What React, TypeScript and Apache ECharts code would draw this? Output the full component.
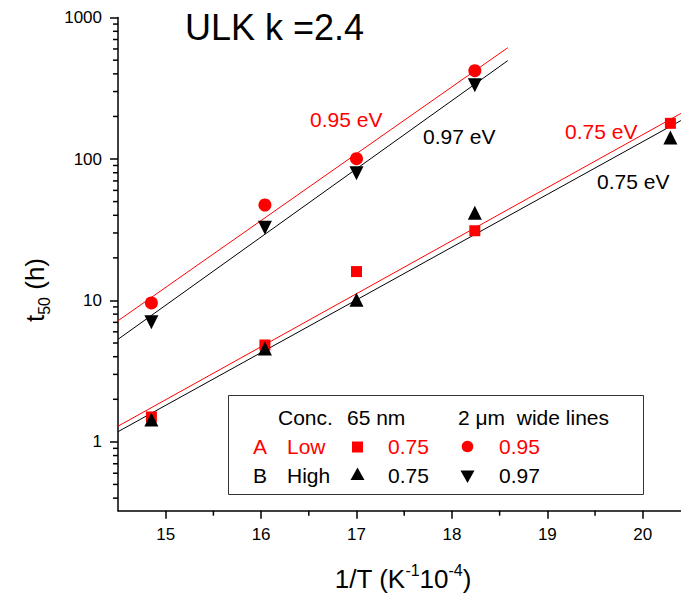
import React, { useEffect, useRef } from "react";
import * as echarts from "echarts";

// ---- data ----
const X_MIN = 14.5;
const X_MAX = 20.4;
const Y_MIN = 0.326;
const Y_MAX = 1000;

const x65nm = [14.85, 16.04, 17.0, 18.24, 20.29];
const lowA65nm = [1.5, 4.84, 16.0, 31.1, 178.8]; // red squares
const highB65nm = [1.44, 4.58, 10.1, 41.7, 142]; // black up-triangles

const x2um = [14.85, 16.04, 17.0, 18.24];
const lowA2um = [9.6, 47.3, 100.5, 421]; // red circles
const highB2um = [7.0, 32.7, 79.2, 333]; // black down-triangles

// fitted Arrhenius lines: [x, t50] end points
const fitA2um = [[14.5, 7.18], [18.585, 612]];
const fitB2um = [[14.5, 5.31], [18.585, 496]];
const fitA65nm = [[14.5, 1.29], [20.4, 210]];
const fitB65nm = [[14.5, 1.18], [20.4, 187]];

const yMinorTicks = [
  0.4, 0.5, 0.6, 0.7, 0.8, 0.9,
  2, 3, 4, 5, 6, 7, 8, 9,
  20, 30, 40, 50, 60, 70, 80, 90,
  200, 300, 400, 500, 600, 700, 800, 900,
];
const xMinorTicks = [15.5, 16.5, 17.5, 18.5, 19.5];

const FONT = "'Liberation Sans', Arial, Helvetica, sans-serif";
const RED = "#ff0000";
const BLACK = "#000000";

const zip = (xs: number[], ys: number[]) => xs.map((x, i) => [x, ys[i]]);

export default function App() {
  const ref = useRef<HTMLDivElement>(null);

  useEffect(() => {
    document.body.style.margin = "0";
    if (!ref.current) return;
    const chart = echarts.init(ref.current, undefined, { renderer: "svg" });

    const lineSeries = (data: number[][], color: string) => ({
      type: "line",
      data,
      showSymbol: false,
      symbol: "none",
      lineStyle: { color, width: 1 },
      silent: true,
      z: 2,
    });

    const scatter = (
      data: number[][],
      color: string,
      symbol: string,
      size: number,
      rotate = 0
    ) => ({
      type: "scatter",
      data,
      symbol,
      symbolSize: size,
      symbolRotate: rotate,
      itemStyle: { color, opacity: 1 },
      silent: true,
      z: 3,
    });

    const txt = (text: string, x: number, y: number, color: string, size = 21) => ({
      type: "text",
      x,
      y,
      z: 12,
      style: {
        text,
        fill: color,
        font: `${size}px ${FONT}`,
        textAlign: "left",
        textVerticalAlign: "middle",
      },
    });

    const option: any = {
      animation: false,
      backgroundColor: "#ffffff",
      grid: { left: 118, right: 0.1, top: 17.6, bottom: 83.3, containLabel: false },
      xAxis: {
        type: "value",
        min: X_MIN,
        max: X_MAX,
        axisLine: { show: true, lineStyle: { color: BLACK, width: 1.5 } },
        axisTick: { show: true, length: 8, lineStyle: { color: BLACK, width: 1.5 } },
        splitLine: { show: false },
        axisLabel: {
          color: BLACK,
          fontSize: 17,
          fontFamily: FONT,
          margin: 15,
          showMinLabel: false,
          showMaxLabel: false,
          formatter: (v: number) => (Number.isInteger(v) ? String(v) : ""),
        },
      },
      yAxis: {
        type: "log",
        logBase: 10,
        min: Y_MIN,
        max: Y_MAX,
        axisLine: { show: true, lineStyle: { color: BLACK, width: 1.5 } },
        axisTick: { show: true, length: 8, lineStyle: { color: BLACK, width: 1.5 } },
        splitLine: { show: false },
        axisLabel: {
          color: BLACK,
          fontSize: 17,
          fontFamily: FONT,
          margin: 16,
          showMinLabel: false,
          formatter: (v: number) => String(Math.round(v)),
        },
      },
      series: [
        lineSeries(fitA2um, RED),
        lineSeries(fitB2um, BLACK),
        lineSeries(fitA65nm, RED),
        lineSeries(fitB65nm, BLACK),
        scatter(zip(x2um, highB2um), BLACK, "triangle", 14, 180),
        scatter(zip(x2um, lowA2um), RED, "circle", 13),
        scatter(zip(x65nm, lowA65nm), RED, "rect", 11),
        scatter(zip(x65nm, highB65nm), BLACK, "triangle", 14),
      ],
    };

    chart.setOption(option);

    // minor ticks placed through the chart's own scales
    const minorTickLines: any[] = [];
    yMinorTicks.forEach((v) => {
      const p = chart.convertToPixel({ gridIndex: 0 }, [X_MIN, v]) as number[];
      minorTickLines.push({
        type: "line",
        z: 6,
        shape: { x1: p[0] - 5, y1: p[1], x2: p[0], y2: p[1] },
        style: { stroke: BLACK, lineWidth: 1.5 },
      });
    });
    xMinorTicks.forEach((v) => {
      const p = chart.convertToPixel({ gridIndex: 0 }, [v, Y_MIN]) as number[];
      minorTickLines.push({
        type: "line",
        z: 6,
        shape: { x1: p[0], y1: p[1], x2: p[0], y2: p[1] + 5 },
        style: { stroke: BLACK, lineWidth: 1.5 },
      });
    });

    const graphic: any[] = [
      ...minorTickLines,
      {
        type: "text",
        x: 185,
        y: 27.5,
        style: {
          text: "ULK k =2.4",
          fill: BLACK,
          font: `36px ${FONT}`,
          textAlign: "left",
          textVerticalAlign: "middle",
        },
      },
      txt("0.95 eV", 310, 119, RED),
      txt("0.97 eV", 423, 136, BLACK),
      txt("0.75 eV", 565, 131, RED),
      txt("0.75 eV", 597, 181, BLACK),
      // x axis title
      {
        type: "text",
        x: 403,
        y: 577,
        style: {
          text: "{a|1/T (K}{s|-1}{a|10}{s|-4}{a|)}",
          textAlign: "center",
          textVerticalAlign: "middle",
          fill: BLACK,
          rich: {
            a: { fontSize: 26, fontFamily: FONT, lineHeight: 30, fill: BLACK, verticalAlign: "bottom" },
            s: { fontSize: 16, fontFamily: FONT, lineHeight: 16, fill: BLACK, verticalAlign: "top" },
          },
        },
      },
      // y axis title
      {
        type: "text",
        x: 37,
        y: 290,
        rotation: Math.PI / 2,
        style: {
          text: "{a|t}{s|50}{a| (h)}",
          textAlign: "center",
          textVerticalAlign: "middle",
          fill: BLACK,
          rich: {
            a: { fontSize: 26, fontFamily: FONT, lineHeight: 30, fill: BLACK, verticalAlign: "top" },
            s: { fontSize: 16, fontFamily: FONT, lineHeight: 16, fill: BLACK, verticalAlign: "bottom" },
          },
        },
      },
      // legend box
      {
        type: "rect",
        z: 10,
        shape: { x: 228.5, y: 395.5, width: 415, height: 99 },
        style: { fill: "#ffffff", stroke: "#333333", lineWidth: 1 },
      },
      txt("Conc.", 278, 417, BLACK),
      txt("65 nm", 347, 417, BLACK),
      txt("2 \u03bcm  wide lines", 458, 417, BLACK),
      txt("A", 253, 446.5, RED),
      txt("Low", 287, 446.5, RED),
      txt("0.75", 388, 446.5, RED),
      txt("0.95", 499, 446.5, RED),
      txt("B", 253, 475, BLACK),
      txt("High", 287, 475, BLACK),
      txt("0.75", 388, 475, BLACK),
      txt("0.97", 499, 475, BLACK),
      {
        type: "rect",
        z: 12,
        shape: { x: 352, y: 441.5, width: 11, height: 11 },
        style: { fill: RED },
      },
      {
        type: "circle",
        z: 12,
        shape: { cx: 467.5, cy: 446.5, r: 5.8 },
        style: { fill: RED },
      },
      {
        type: "polygon",
        z: 12,
        shape: { points: [[357.5, 467.5], [364.5, 480], [350.5, 480]] },
        style: { fill: BLACK },
      },
      {
        type: "polygon",
        z: 12,
        shape: { points: [[460.5, 470.5], [474.5, 470.5], [467.5, 483]] },
        style: { fill: BLACK },
      },
    ];

    chart.setOption({ graphic });
    return () => chart.dispose();
  }, []);

  return <div ref={ref} style={{ width: 681, height: 594 }} />;
}
